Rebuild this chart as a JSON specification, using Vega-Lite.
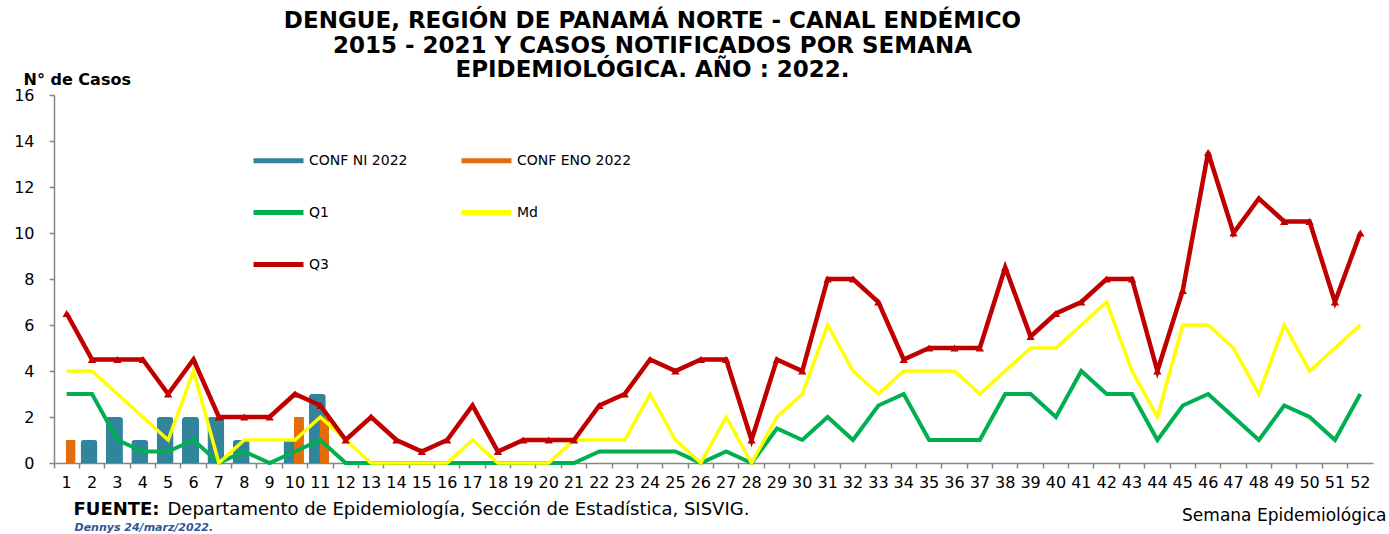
{
  "$schema": "https://vega.github.io/schema/vega-lite/v6.json",
  "width": 1319,
  "height": 368,
  "autosize": {"type": "none"},
  "padding": {"left": 54, "top": 95, "right": 16, "bottom": 71},
  "background": "white",
  "title": {
    "text": ["DENGUE, REGIÓN DE PANAMÁ NORTE - CANAL ENDÉMICO", "2015 - 2021 Y  CASOS NOTIFICADOS POR SEMANA", "EPIDEMIOLÓGICA. AÑO : 2022."],
    "font": "DejaVu Sans",
    "fontSize": 23,
    "fontWeight": "bold",
    "color": "black",
    "anchor": "middle",
    "frame": "group",
    "dx": -61,
    "dy": 13,
    "lineHeight": 24.5,
    "offset": 2
  },
  "data": {
    "values": [
      {"semana": 1, "Q1": 3, "Md": 4, "Q3": 6.5, "ENO": 1},
      {"semana": 2, "Q1": 3, "Md": 4, "Q3": 4.5, "NI": 1},
      {"semana": 3, "Q1": 1, "Md": 3, "Q3": 4.5, "NI": 2},
      {"semana": 4, "Q1": 0.5, "Md": 2, "Q3": 4.5, "NI": 1},
      {"semana": 5, "Q1": 0.5, "Md": 1, "Q3": 3, "NI": 2},
      {"semana": 6, "Q1": 1, "Md": 4, "Q3": 4.5, "NI": 2},
      {"semana": 7, "Q1": 0, "Md": 0, "Q3": 2, "NI": 2},
      {"semana": 8, "Q1": 0.5, "Md": 1, "Q3": 2, "NI": 1},
      {"semana": 9, "Q1": 0, "Md": 1, "Q3": 2},
      {"semana": 10, "Q1": 0.5, "Md": 1, "Q3": 3, "NI": 1, "ENO": 2},
      {"semana": 11, "Q1": 1, "Md": 2, "Q3": 2.5, "NI": 3, "ENO": 2},
      {"semana": 12, "Q1": 0, "Md": 1, "Q3": 1},
      {"semana": 13, "Q1": 0, "Md": 0, "Q3": 2},
      {"semana": 14, "Q1": 0, "Md": 0, "Q3": 1},
      {"semana": 15, "Q1": 0, "Md": 0, "Q3": 0.5},
      {"semana": 16, "Q1": 0, "Md": 0, "Q3": 1},
      {"semana": 17, "Q1": 0, "Md": 1, "Q3": 2.5},
      {"semana": 18, "Q1": 0, "Md": 0, "Q3": 0.5},
      {"semana": 19, "Q1": 0, "Md": 0, "Q3": 1},
      {"semana": 20, "Q1": 0, "Md": 0, "Q3": 1},
      {"semana": 21, "Q1": 0, "Md": 1, "Q3": 1},
      {"semana": 22, "Q1": 0.5, "Md": 1, "Q3": 2.5},
      {"semana": 23, "Q1": 0.5, "Md": 1, "Q3": 3},
      {"semana": 24, "Q1": 0.5, "Md": 3, "Q3": 4.5},
      {"semana": 25, "Q1": 0.5, "Md": 1, "Q3": 4},
      {"semana": 26, "Q1": 0, "Md": 0, "Q3": 4.5},
      {"semana": 27, "Q1": 0.5, "Md": 2, "Q3": 4.5},
      {"semana": 28, "Q1": 0, "Md": 0, "Q3": 1},
      {"semana": 29, "Q1": 1.5, "Md": 2, "Q3": 4.5},
      {"semana": 30, "Q1": 1, "Md": 3, "Q3": 4},
      {"semana": 31, "Q1": 2, "Md": 6, "Q3": 8},
      {"semana": 32, "Q1": 1, "Md": 4, "Q3": 8},
      {"semana": 33, "Q1": 2.5, "Md": 3, "Q3": 7},
      {"semana": 34, "Q1": 3, "Md": 4, "Q3": 4.5},
      {"semana": 35, "Q1": 1, "Md": 4, "Q3": 5},
      {"semana": 36, "Q1": 1, "Md": 4, "Q3": 5},
      {"semana": 37, "Q1": 1, "Md": 3, "Q3": 5},
      {"semana": 38, "Q1": 3, "Md": 4, "Q3": 8.5},
      {"semana": 39, "Q1": 3, "Md": 5, "Q3": 5.5},
      {"semana": 40, "Q1": 2, "Md": 5, "Q3": 6.5},
      {"semana": 41, "Q1": 4, "Md": 6, "Q3": 7},
      {"semana": 42, "Q1": 3, "Md": 7, "Q3": 8},
      {"semana": 43, "Q1": 3, "Md": 4, "Q3": 8},
      {"semana": 44, "Q1": 1, "Md": 2, "Q3": 4},
      {"semana": 45, "Q1": 2.5, "Md": 6, "Q3": 7.5},
      {"semana": 46, "Q1": 3, "Md": 6, "Q3": 13.5},
      {"semana": 47, "Q1": 2, "Md": 5, "Q3": 10},
      {"semana": 48, "Q1": 1, "Md": 3, "Q3": 11.5},
      {"semana": 49, "Q1": 2.5, "Md": 6, "Q3": 10.5},
      {"semana": 50, "Q1": 2, "Md": 4, "Q3": 10.5},
      {"semana": 51, "Q1": 1, "Md": 5, "Q3": 7},
      {"semana": 52, "Q1": 3, "Md": 6, "Q3": 10}
    ]
  },
  "resolve": {"axis": {"x": "independent", "y": "independent"}},
  "layer": [
    {
      "mark": {"type": "bar", "width": 17, "xOffset": -3, "cornerRadiusTopLeft": 3, "cornerRadiusTopRight": 3},
      "encoding": {
        "x": {
          "field": "semana", "type": "ordinal",
          "scale": {"paddingInner": 0, "paddingOuter": 0},
          "axis": {
            "orient": "bottom", "title": "Semana Epidemiológica",
            "titleX": 1332, "titleY": 57, "titleAlign": "right", "titleBaseline": "alphabetic", "titleAnchor": "end",
            "titleFont": "DejaVu Sans", "titleFontSize": 17, "titleFontWeight": "normal", "titleColor": "black",
            "labelAngle": 0, "labelFont": "DejaVu Sans", "labelFontSize": 16, "labelColor": "black",
            "labelPadding": 6, "labelOverlap": false, "bandPosition": 0,
            "tickSize": 5, "tickColor": "#868686", "tickWidth": 1.5, "domainColor": "#868686", "domainWidth": 1.5
          }
        },
        "y": {
          "field": "NI", "type": "quantitative",
          "scale": {"domain": [0, 16], "nice": false},
          "axis": {
            "orient": "left", "values": [0, 2, 4, 6, 8, 10, 12, 14, 16],
            "title": "N° de Casos", "titleAngle": 0, "titleX": -31, "titleY": -11, "titleAlign": "left", "titleBaseline": "alphabetic",
            "titleFont": "DejaVu Sans", "titleFontWeight": "bold", "titleFontSize": 16, "titleColor": "black",
            "labelFont": "DejaVu Sans", "labelFontSize": 16, "labelColor": "black", "labelPadding": 15,
            "tickSize": 5, "tickColor": "#868686", "tickWidth": 1.5, "domainColor": "#868686", "domainWidth": 1.5
          }
        },
        "color": {
          "datum": "CONF NI 2022", "type": "nominal",
          "scale": {
            "domain": ["CONF NI 2022", "Q1", "Q3", "CONF ENO 2022", "Md"],
            "range": ["#31849B", "#00B050", "#C00000", "#E46C0A", "#FFFF00"]
          }
        }
      }
    },
    {
      "mark": {"type": "bar", "width": 10, "xOffset": 4, "cornerRadiusTopLeft": 1, "cornerRadiusTopRight": 1},
      "encoding": {
        "x": {
          "field": "semana", "type": "ordinal",
          "axis": {
            "orient": "top", "title": "FUENTE:", "labels": false, "ticks": false, "domain": false,
            "titleX": 19, "titleY": 419, "titleAlign": "left", "titleBaseline": "alphabetic", "titleAngle": 0,
            "titleFont": "DejaVu Sans", "titleFontSize": 18, "titleFontWeight": "bold", "titleColor": "black"
          }
        },
        "y": {
          "field": "ENO", "type": "quantitative",
          "axis": {
            "orient": "right", "title": "Departamento de Epidemiología, Sección de Estadística, SISVIG.",
            "labels": false, "ticks": false, "domain": false,
            "titleX": -1206, "titleY": 419, "titleAngle": 0, "titleAlign": "left", "titleBaseline": "alphabetic",
            "titleFont": "DejaVu Sans", "titleFontSize": 18, "titleFontWeight": "normal", "titleColor": "black"
          }
        },
        "color": {"datum": "CONF ENO 2022", "type": "nominal"}
      }
    },
    {
      "mark": {"type": "line", "strokeWidth": 4},
      "encoding": {
        "x": {
          "field": "semana", "type": "ordinal",
          "axis": {
            "orient": "bottom", "title": "Dennys  24/marz/2022.", "labels": false, "ticks": false, "domain": false,
            "titleX": 20, "titleY": 67, "titleAlign": "left", "titleBaseline": "alphabetic", "titleAngle": 0,
            "titleFont": "DejaVu Sans", "titleFontSize": 11, "titleFontWeight": "bold", "titleFontStyle": "italic", "titleColor": "#2F5496"
          }
        },
        "y": {"field": "Q1", "type": "quantitative", "axis": null},
        "color": {"datum": "Q1", "type": "nominal"}
      }
    },
    {
      "mark": {"type": "line", "strokeWidth": 3.5},
      "encoding": {
        "x": {"field": "semana", "type": "ordinal", "axis": null},
        "y": {"field": "Md", "type": "quantitative", "axis": null},
        "color": {"datum": "Md", "type": "nominal"}
      }
    },
    {
      "mark": {"type": "line", "strokeWidth": 4.5},
      "encoding": {
        "x": {"field": "semana", "type": "ordinal", "axis": null},
        "y": {"field": "Q3", "type": "quantitative", "axis": null},
        "color": {"datum": "Q3", "type": "nominal"}
      }
    },
    {
      "mark": {"type": "point", "shape": "triangle-up", "filled": true, "size": 70, "color": "#C00000", "opacity": 1},
      "encoding": {
        "x": {"field": "semana", "type": "ordinal", "axis": null},
        "y": {"field": "Q3", "type": "quantitative", "axis": null}
      }
    }
  ],
  "config": {
    "view": {"stroke": null},
    "axis": {"grid": false},
    "legend": {
      "orient": "none", "legendX": 197, "legendY": 38, "columns": 2, "columnPadding": 43, "rowPadding": 14,
      "symbolType": "stroke", "symbolSize": 2500, "symbolStrokeWidth": 5,
      "labelFont": "DejaVu Sans", "labelFontSize": 14, "labelColor": "black", "labelOffset": 3,
      "title": null, "padding": 0
    }
  },
  "encoding": {}
}
